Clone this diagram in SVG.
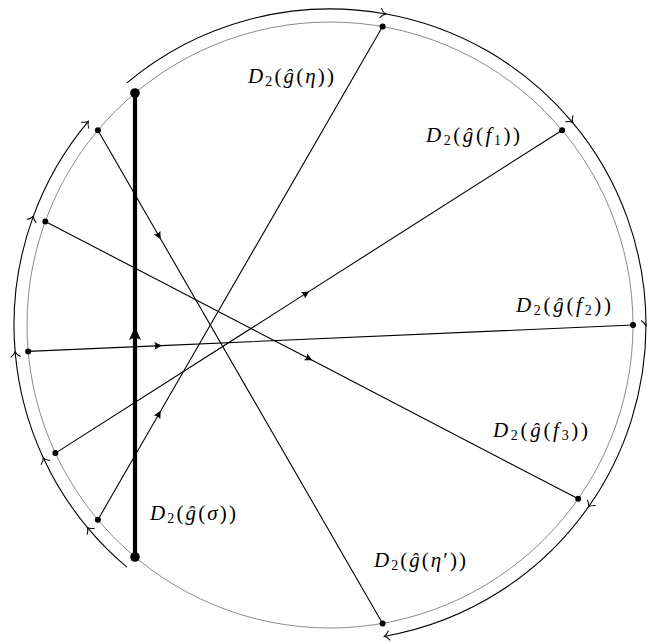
<svg xmlns="http://www.w3.org/2000/svg" width="647" height="643" viewBox="0 0 647 643">
<style>
.gray{fill:none;stroke:#8c8c8c;stroke-width:1}
.arc{fill:none;stroke:#000;stroke-width:1.1;marker-mid:url(#to);marker-end:url(#to)}
.chord{fill:none;stroke:#000;stroke-width:1.1;marker-mid:url(#st)}
.thick{fill:none;stroke:#000;stroke-width:4.2;marker-mid:url(#big)}
.dot{fill:#000}
text{font-family:"Liberation Serif","DejaVu Serif",serif;font-size:21px;fill:#000}
.i{font-style:italic}
.s{font-size:14px}
</style>
<defs>
<marker id="st" markerUnits="userSpaceOnUse" viewBox="-10 -5 12 10" markerWidth="12" markerHeight="10" refX="0" refY="0" orient="auto">
<path d="M0.5,0 L-7,-3.8 Q-4.8,0 -7,3.8 Z" fill="#000"/>
</marker>
<marker id="big" markerUnits="userSpaceOnUse" viewBox="-15 -8 17 16" markerWidth="17" markerHeight="16" refX="0" refY="0" orient="auto">
<path d="M1,0 L-12,-6 Q-8,0 -12,6 Z" fill="#000"/>
</marker>
<marker id="to" markerUnits="userSpaceOnUse" viewBox="-7 -7 9 14" markerWidth="9" markerHeight="14" refX="0" refY="0" orient="auto">
<path d="M-4.5,-5 Q-2,-1 0.8,0 Q-2,1 -4.5,5" fill="none" stroke="#000" stroke-width="1"/>
</marker>
</defs>
<g id="circle">
<circle class="gray" cx="330" cy="325" r="303"/>
</g>
<g id="connectors">
<path id="arc-left" class="arc" d="M126.9,567.1 A316,316 0 0 1 87.9,528.1 A316,316 0 0 1 43.6,458.5 A316,316 0 0 1 15.2,352.5 A316,316 0 0 1 33.1,216.9 A316,316 0 0 1 87.9,121.9"/>
<path id="arc-right" class="arc" d="M126.9,82.9 A316,316 0 0 1 384.9,13.8 A316,316 0 0 1 572.1,121.9 A316,316 0 0 1 646,325 A316,316 0 0 1 588.9,506.3 A316,316 0 0 1 384.9,636.2"/>
<path id="chord-eta" class="chord" d="M97.9,130.2 L160.5,238.7 L382.6,623.4"/>
<path id="chord-f3" class="chord" d="M45.3,221.4 L311.75,360.1 L578.2,498.8"/>
<path id="chord-f2" class="chord" d="M28.2,351.4 L161.3,345.6 L633,325"/>
<path id="chord-f1" class="chord" d="M55.4,453.1 L308.75,291.65 L562.1,130.2"/>
<path id="chord-etap" class="chord" d="M97.9,519.8 L160.5,411.3 L382.6,26.6"/>
<path id="sigma" class="thick" d="M135,557 L135,328 L135,93"/>
</g>
<g id="points">
<circle class="dot" cx="135" cy="93" r="4.8"/>
<circle class="dot" cx="135" cy="557" r="4.8"/>
<circle class="dot" cx="97.9" cy="130.2" r="3"/>
<circle class="dot" cx="45.3" cy="221.4" r="3"/>
<circle class="dot" cx="28.2" cy="351.4" r="3"/>
<circle class="dot" cx="55.4" cy="453.1" r="3"/>
<circle class="dot" cx="97.9" cy="519.8" r="3"/>
<circle class="dot" cx="382.6" cy="26.6" r="3"/>
<circle class="dot" cx="562.1" cy="130.2" r="3"/>
<circle class="dot" cx="633" cy="325" r="3"/>
<circle class="dot" cx="578.2" cy="498.8" r="3"/>
<circle class="dot" cx="382.6" cy="623.4" r="3"/>
</g>
<g id="label-eta"><text x="248" y="82.5" textLength="86" lengthAdjust="spacing"><tspan class="i">D</tspan><tspan class="s" dy="3">2</tspan><tspan dy="-3">(</tspan><tspan class="i">ĝ</tspan>(<tspan class="i">η</tspan>))</text></g>
<g id="label-f1"><text x="426" y="142" textLength="94" lengthAdjust="spacing"><tspan class="i">D</tspan><tspan class="s" dy="3">2</tspan><tspan dy="-3">(</tspan><tspan class="i">ĝ</tspan>(<tspan class="i">f</tspan><tspan class="s" dy="3">1</tspan><tspan dy="-3">))</tspan></text></g>
<g id="label-f2"><text x="516" y="312" textLength="95" lengthAdjust="spacing"><tspan class="i">D</tspan><tspan class="s" dy="3">2</tspan><tspan dy="-3">(</tspan><tspan class="i">ĝ</tspan>(<tspan class="i">f</tspan><tspan class="s" dy="3">2</tspan><tspan dy="-3">))</tspan></text></g>
<g id="label-f3"><text x="493" y="436.7" textLength="95" lengthAdjust="spacing"><tspan class="i">D</tspan><tspan class="s" dy="3">2</tspan><tspan dy="-3">(</tspan><tspan class="i">ĝ</tspan>(<tspan class="i">f</tspan><tspan class="s" dy="3">3</tspan><tspan dy="-3">))</tspan></text></g>
<g id="label-sigma"><text x="150" y="520" textLength="86" lengthAdjust="spacing"><tspan class="i">D</tspan><tspan class="s" dy="3">2</tspan><tspan dy="-3">(</tspan><tspan class="i">ĝ</tspan>(<tspan class="i">σ</tspan>))</text></g>
<g id="label-etap"><text x="374" y="567" textLength="92" lengthAdjust="spacing"><tspan class="i">D</tspan><tspan class="s" dy="3">2</tspan><tspan dy="-3">(</tspan><tspan class="i">ĝ</tspan>(<tspan class="i">η</tspan>′))</text></g>
</svg>
